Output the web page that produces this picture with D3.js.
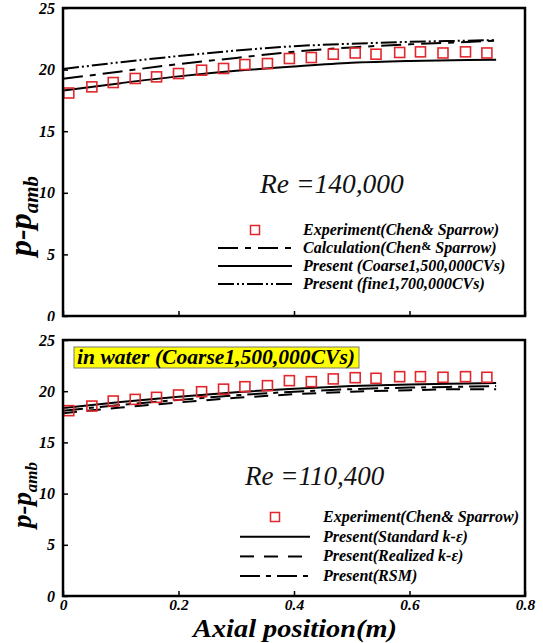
<!DOCTYPE html>
<html>
<head>
<meta charset="utf-8">
<script src="https://cdn.jsdelivr.net/npm/d3@7"></script>
<style>
body{margin:0;background:#fff;}
svg{display:block;}
text{font-family:"Liberation Serif","Times New Roman",serif;}
</style>
</head>
<body>
<svg id="chart" width="543" height="643"></svg>
<script>
// ---- data ----
const expX = [0.01,0.05,0.087,0.125,0.162,0.2,0.24,0.278,0.315,0.354,0.392,0.43,0.468,0.506,0.542,0.583,0.619,0.658,0.697,0.734];
const expTop = [18.1,18.6,18.95,19.28,19.41,19.68,19.95,20.09,20.41,20.49,20.9,20.98,21.25,21.35,21.25,21.39,21.44,21.35,21.44,21.35];
const expBottom = [18.1,18.55,19.04,19.2,19.4,19.63,19.95,20.2,20.44,20.54,21.03,20.93,21.2,21.32,21.26,21.42,21.42,21.36,21.42,21.36];

const lineX = [0,0.1,0.2,0.3,0.4,0.5,0.6,0.7,0.75];
const calcTop = [19.25,19.85,20.45,20.95,21.45,21.8,22.05,22.25,22.35];
const coarseTop = [18.3,18.9,19.45,19.9,20.25,20.55,20.7,20.78,20.8];
const fineTop = [20.05,20.6,21.1,21.55,21.9,22.1,22.25,22.35,22.4];

const standardBottom = [18.35,18.95,19.45,19.9,20.25,20.5,20.65,20.75,20.8];
const realizedBottom = [17.85,18.4,18.9,19.35,19.7,19.95,20.1,20.2,20.2];
const rsmBottom = [18.1,18.65,19.15,19.6,19.95,20.2,20.35,20.45,20.5];

const yTicks = [0,5,10,15,20,25];
const xTicks = [0,0.2,0.4,0.6,0.8];
const xTickLabels = ["0","0.2","0.4","0.6","0.8"];

const topLegend = ["Experiment(Chen& Sparrow)","Calculation(Chen& Sparrow)","Present (Coarse1,500,000CVs)","Present (fine1,700,000CVs)"];
const bottomLegend = ["Experiment(Chen& Sparrow)","Present(Standard k-ε)","Present(Realized k-ε)","Present(RSM)"];

// ---- drawing ----
const svg = d3.select("#chart");
svg.append("rect").attr("width",543).attr("height",643).attr("fill","#fff");

const x = d3.scaleLinear().domain([0,0.8]).range([63,525]);
const yT = d3.scaleLinear().domain([0,25]).range([316,8]);
const yB = d3.scaleLinear().domain([0,25]).range([596,340]);

const red = "#e3262b";
const dashes = {
  solid: null,
  calc: "20,7,6,7",
  fine: "16,3,2,3,2,3",
  realized: "14,10",
  rsm: "20,6,5,6"
};

function panel(g, y, series, exp, showXLabels, labelSize, subSize, labelY){
  const ya = d3.axisLeft(y).tickValues(yTicks).tickSizeInner(-5).tickSizeOuter(0).tickPadding(8);
  const yg = g.append("g").attr("transform","translate(63,0)").call(ya);
  yg.select(".domain").remove();
  yg.selectAll("line").attr("stroke","#000").attr("stroke-width",1.5);
  yg.selectAll("text").attr("font-size",16).attr("font-weight","bold").attr("font-style","italic")
    .attr("font-family","Liberation Serif").attr("fill","#000");
  const xa = d3.axisBottom(x).tickValues(xTicks).tickSizeInner(-5).tickSizeOuter(0).tickPadding(3)
    .tickFormat((d,i)=> showXLabels ? xTickLabels[i] : "");
  const xg = g.append("g").attr("transform",`translate(0,${y.range()[0]})`).call(xa);
  xg.select(".domain").remove();
  xg.selectAll("line").attr("stroke","#000").attr("stroke-width",1.5);
  xg.selectAll("text").attr("font-size",15.5).attr("font-weight","bold").attr("font-style","italic")
    .attr("font-family","Liberation Serif").attr("fill","#000");

  const line = d3.line().x((d,i)=>x(lineX[i])).y(d=>y(d)).curve(d3.curveMonotoneX);
  series.forEach(s=>{
    g.append("path").datum(s.values).attr("d",line).attr("fill","none")
      .attr("stroke","#000").attr("stroke-width",2)
      .attr("stroke-dasharray",s.dash);
  });
  g.selectAll("rect.exp").data(exp).enter().append("rect").attr("class","exp")
    .attr("x",(d,i)=>x(expX[i])-5).attr("y",d=>y(d)-5).attr("width",10).attr("height",10)
    .attr("fill","none").attr("stroke",red).attr("stroke-width",1.6);

  const [y0,y1] = y.range();
  g.append("rect").attr("x",63).attr("y",y1).attr("width",525-63).attr("height",y0-y1)
    .attr("fill","none").attr("stroke","#000").attr("stroke-width",2.5);

  const lab = g.append("text").attr("transform",`translate(31,${labelY}) rotate(-90)`)
    .attr("text-anchor","middle").attr("font-weight","bold").attr("font-style","italic")
    .attr("font-size",labelSize).attr("fill","#000");
  lab.append("tspan").text("p-p");
  lab.append("tspan").attr("font-size",subSize).attr("dy",labelSize*0.22).text("amb");
}

const gT = svg.append("g");
panel(gT, yT, [
  {values: calcTop, dash: dashes.calc},
  {values: coarseTop, dash: dashes.solid},
  {values: fineTop, dash: dashes.fine}
], expTop, false, 32, 21, 216);

svg.append("rect").attr("x",0).attr("y",321).attr("width",543).attr("height",322).attr("fill","#fff");
const gB = svg.append("g");
panel(gB, yB, [
  {values: standardBottom, dash: dashes.solid},
  {values: realizedBottom, dash: dashes.realized},
  {values: rsmBottom, dash: dashes.rsm}
], expBottom, true, 27, 17, 495);

function reLabel(txt, xx, yy, fs){
  svg.append("text").attr("x",xx).attr("y",yy).attr("font-size",fs).attr("font-style","italic")
    .attr("fill","#111").text(txt);
}
reLabel("Re =140,000", 260, 193, 27.5);
reLabel("Re =110,400", 245, 485, 27);

function legend(items, styles, x0, x1, textX, y0, dy, isTop){
  items.forEach((t,i)=>{
    const yy = y0 + i*dy;
    const st = styles[i];
    if(st === "square"){
      svg.append("rect").attr("x",(x0+x1)/2-4.5).attr("y",yy-4.5).attr("width",9).attr("height",9)
        .attr("fill","none").attr("stroke",red).attr("stroke-width",1.5);
    } else {
      svg.append("line").attr("x1",x0).attr("x2",x1).attr("y1",yy).attr("y2",yy)
        .attr("stroke","#000").attr("stroke-width",2).attr("stroke-dasharray",st);
    }
    const tx = svg.append("text").attr("x",textX).attr("y",yy+5).attr("font-size",16)
      .attr("font-weight","bold").attr("font-style","italic").attr("fill","#000");
    if(isTop && i===1){
      tx.append("tspan").text("Calculation(Chen");
      tx.append("tspan").attr("dy",-3).attr("font-size",12).attr("font-style","normal").text("&");
      tx.append("tspan").attr("dy",3).text(" Sparrow)");
    } else {
      tx.text(t);
    }
  });
}
legend(topLegend, ["square", dashes.calc, null, dashes.fine], 218, 292, 303, 230, 18, true);
legend(bottomLegend, ["square", null, dashes.realized, dashes.rsm], 240, 310, 323, 517, 19.7, false);

const wb = svg.append("g");
wb.append("rect").attr("x",74).attr("y",347).attr("width",285).attr("height",21)
  .attr("fill","#ffff00").attr("stroke","#777").attr("stroke-width",1);
wb.append("text").attr("x",77).attr("y",364).attr("font-size",21).attr("font-weight","bold")
  .attr("font-style","italic").attr("fill","#000").attr("textLength",278).attr("lengthAdjust","spacingAndGlyphs")
  .text("in water (Coarse1,500,000CVs)");

svg.append("text").attr("x",295).attr("y",637).attr("text-anchor","middle").attr("font-size",25)
  .attr("font-weight","bold").attr("font-style","italic").attr("fill","#000")
  .attr("textLength",204).attr("lengthAdjust","spacingAndGlyphs").text("Axial position(m)");
</script>
</body>
</html>
